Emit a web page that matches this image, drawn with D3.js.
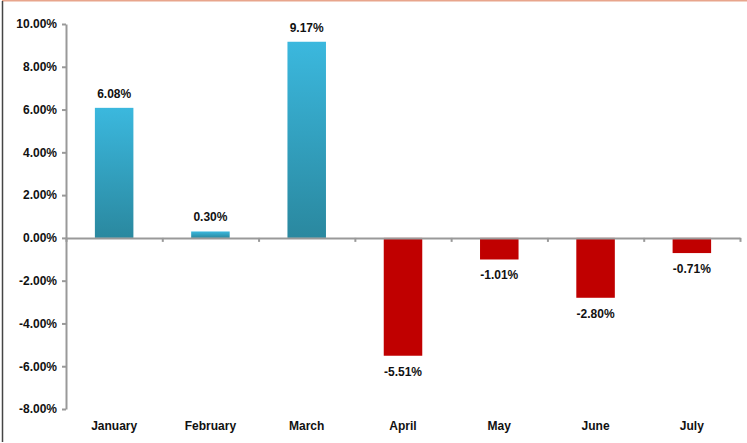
<!doctype html>
<html lang="en">
<head>
<meta charset="utf-8">
<title>Monthly change</title>
<script src="https://cdn.jsdelivr.net/npm/d3@7"></script>
<style>
    body { margin: 0; background: #fff; }
    text { font-family: "Liberation Sans", Arial, sans-serif; font-weight: bold; fill: #111; }
</style>
</head>
<body>
<svg id="chart"></svg>
<script>
    // data
    const months = ["January", "February", "March", "April", "May", "June", "July"];
    const changes = [6.08, 0.30, 9.17, -5.51, -1.01, -2.80, -0.71];
    const yTicks = [10, 8, 6, 4, 2, 0, -2, -4, -6, -8];

    const W = 747, H = 443;
    const margin = { top: 24, right: 7, bottom: 34, left: 66 };

    const svg = d3.select("#chart")
        .attr("width", W)
        .attr("height", H);

    // frame lines
    svg.append("line")
        .attr("x1", 2).attr("x2", W).attr("y1", 0.5).attr("y2", 0.5)
        .attr("stroke", "#e8a58c").attr("stroke-width", 2);
    svg.append("line")
        .attr("x1", 2.5).attr("x2", 2.5).attr("y1", 1).attr("y2", 442)
        .attr("stroke", "#444").attr("stroke-width", 1.5);

    const x = d3.scaleBand()
        .domain(months)
        .range([margin.left, W - margin.right])
        .paddingInner(0.6)
        .paddingOuter(0.3);

    const y = d3.scaleLinear()
        .domain([-8, 10])
        .range([H - margin.bottom, margin.top]);

    // gradient for the positive bars
    const grad = svg.append("defs").append("linearGradient")
        .attr("id", "blueGrad")
        .attr("x1", 0).attr("x2", 0).attr("y1", 0).attr("y2", 1);
    grad.append("stop").attr("offset", "0%").attr("stop-color", "#3bb8de");
    grad.append("stop").attr("offset", "100%").attr("stop-color", "#2a889f");

    // y axis
    const yAxis = svg.append("g")
        .attr("transform", `translate(${margin.left},0)`)
        .call(d3.axisLeft(y).tickValues(yTicks).tickSize(4).tickSizeOuter(0)
            .tickFormat(d => d.toFixed(2) + "%"));
    yAxis.select(".domain").attr("stroke", "#999").attr("stroke-width", 2);
    yAxis.selectAll(".tick line").attr("stroke", "#999").attr("stroke-width", 2);
    yAxis.selectAll(".tick text").attr("x", -9).style("font-size", "12px");

    // bars
    svg.selectAll("rect.bar")
        .data(changes)
        .enter().append("rect")
        .attr("class", "bar")
        .attr("x", (d, i) => x(months[i]))
        .attr("width", x.bandwidth())
        .attr("y", d => y(Math.max(0, d)))
        .attr("height", d => Math.abs(y(d) - y(0)))
        .attr("fill", d => d >= 0 ? "url(#blueGrad)" : "#c00000");

    // zero line with category ticks
    const step = (W - margin.right - margin.left) / months.length;
    const xAxis = svg.append("g")
        .attr("transform", `translate(0,${y(0)})`)
        .call(d3.axisBottom(d3.scaleLinear().domain([0, months.length]).range([margin.left, W - margin.right]))
            .tickValues(d3.range(0, months.length + 1)).tickSize(4).tickSizeOuter(0).tickFormat(""));
    xAxis.select(".domain").attr("stroke", "#999").attr("stroke-width", 2);
    xAxis.selectAll(".tick line").attr("stroke", "#999").attr("stroke-width", 2);

    // value labels
    svg.selectAll("text.val")
        .data(changes)
        .enter().append("text")
        .attr("class", "val")
        .attr("x", (d, i) => x(months[i]) + x.bandwidth() / 2)
        .attr("y", d => d >= 0 ? y(d) - 10 : y(d) + 20)
        .attr("text-anchor", "middle")
        .style("font-size", "12px")
        .text(d => d.toFixed(2) + "%");

    // month labels
    svg.selectAll("text.month")
        .data(months)
        .enter().append("text")
        .attr("class", "month")
        .attr("x", d => x(d) + x.bandwidth() / 2)
        .attr("y", 430)
        .attr("text-anchor", "middle")
        .style("font-size", "12px")
        .text(d => d);
</script>
</body>
</html>
